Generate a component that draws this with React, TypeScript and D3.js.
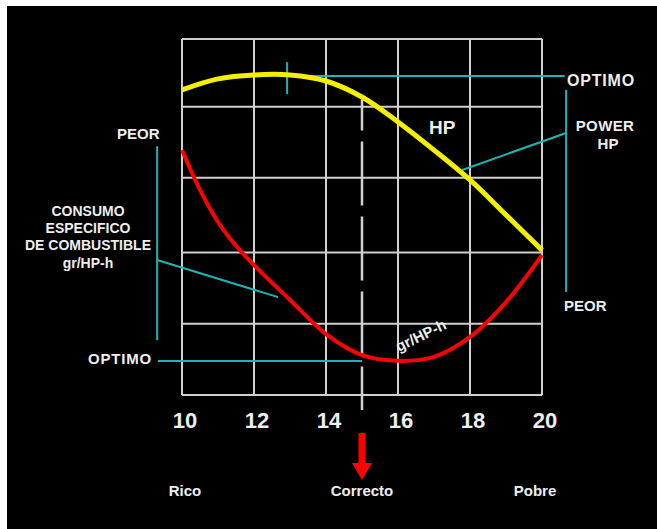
import React from 'react';
import * as d3 from 'd3';

// mixture ratio axis
const xTicks = [10, 12, 14, 16, 18, 20];
// horizontal grid rows (relative scale 0-100)
const gridRows = [0, 20, 40, 61, 81, 100];

// HP curve
const hpX = [10, 11, 12, 13, 14, 15, 16, 17, 18, 19, 20];
const hpY = [85.7, 88.8, 89.9, 89.9, 88.2, 83.7, 76.7, 68.8, 60.4, 50.6, 40.7];

// specific fuel consumption gr/HP-h
const sfcX = [10, 10.5, 11, 11.5, 12, 13, 14, 15, 16, 17, 18, 19, 20];
const sfcY = [68.8, 57.6, 48.6, 41.9, 36.5, 26.7, 17.1, 11.2, 9.6, 10.7, 16.3, 26.1, 39.3];

const bottomLabels = ['Rico', 'Correcto', 'Pobre'];
const leftBlock = ['CONSUMO', 'ESPECIFICO', 'DE COMBUSTIBLE', 'gr/HP-h'];

const W = 657;
const H = 529;
const CYAN = '#1fb3b3';
const GRID = '#cfcfcf';
const TXT = '#eeeeee';
const FONT = '"Liberation Sans", Arial, sans-serif';

const App: React.FC = () => {
    const x = d3.scaleLinear().domain([10, 20]).range([182, 542]);
    const y = d3.scaleLinear().domain([0, 100]).range([395, 39]);

    const line = d3.line<[number, number]>()
        .x(d => x(d[0]))
        .y(d => y(d[1]))
        .curve(d3.curveCatmullRom.alpha(0.5));

    const hpPath = line(hpX.map((v, i) => [v, hpY[i]] as [number, number])) ?? '';
    const sfcPath = line(sfcX.map((v, i) => [v, sfcY[i]] as [number, number])) ?? '';

    const seg = (x1: number, y1: number, x2: number, y2: number) => (
        <line x1={x(x1)} y1={y(y1)} x2={x(x2)} y2={y(y2)} stroke={CYAN} strokeWidth={2} />
    );

    const ax = x(15);

    return (
        <svg width={W} height={H} style={{ position: 'absolute', left: 0, top: 0 }} fontFamily={FONT} fontWeight="bold">
            <rect x={0} y={0} width={W} height={H} fill="#fff" />
            <rect x={7} y={6} width={W - 7} height={H - 6} fill="#000" />

            {/* grid */}
            {xTicks.map(t => (
                <line key={'vx' + t} x1={x(t)} x2={x(t)} y1={y(0)} y2={y(100)} stroke={GRID} strokeWidth={2} />
            ))}
            {gridRows.map(r => (
                <line key={'hy' + r} x1={x(10)} x2={x(20)} y1={y(r)} y2={y(r)} stroke={GRID} strokeWidth={2} />
            ))}

            {/* correct mixture dashed line */}
            <line x1={ax} x2={ax} y1={y(83)} y2={410} stroke={GRID} strokeWidth={2.5}
                strokeDasharray="64 11" strokeDashoffset={33} />

            {/* cyan annotations */}
            {seg(12.92, 89.6, 20.63, 89.6)}
            {seg(12.92, 93.5, 12.92, 84.5)}
            {seg(20.67, 85.7, 20.67, 28.9)}
            {seg(20.67, 73.6, 17.78, 63.2)}
            {seg(9.31, 69.9, 9.31, 15.4)}
            {seg(9.31, 37.9, 12.67, 27.5)}
            {seg(9.33, 9.55, 15, 9.55)}

            {/* curves */}
            <path d={hpPath} fill="none" stroke="#f2f000" strokeWidth={5} />
            <path d={sfcPath} fill="none" stroke="#ff0000" strokeWidth={4} />

            {/* tick labels */}
            {xTicks.map(t => (
                <text key={'tl' + t} x={x(t) + 3} y={428} fill={TXT} fontSize={22} textAnchor="middle">{t}</text>
            ))}

            {/* arrow */}
            <rect x={ax - 3.5} y={433} width={7} height={31} fill="#ff0000" />
            <polygon points={`${ax - 10},463 ${ax + 10},463 ${ax},480`} fill="#ff0000" />

            {/* bottom labels */}
            {bottomLabels.map((l, i) => (
                <text key={l} x={x(10 + i * 5) + (i === 2 ? -7 : i === 0 ? 3 : 0)} y={496} fill={TXT}
                    fontSize={15} textAnchor="middle">{l}</text>
            ))}

            {/* right labels */}
            <text x={567} y={86} fill={TXT} fontSize={16} letterSpacing={0.8}>OPTIMO</text>
            <text x={605} y={131} fill={TXT} fontSize={15} textAnchor="middle" letterSpacing={0.4}>POWER</text>
            <text x={608} y={149} fill={TXT} fontSize={15} textAnchor="middle">HP</text>
            <text x={564} y={311} fill={TXT} fontSize={15}>PEOR</text>
            <text x={429} y={134} fill={TXT} fontSize={19}>HP</text>

            {/* left labels */}
            <text x={117} y={139} fill={TXT} fontSize={15}>PEOR</text>
            <text x={88} y={364} fill={TXT} fontSize={15} letterSpacing={0.8}>OPTIMO</text>
            {leftBlock.map((l, i) => (
                <text key={l} x={88} y={216 + i * 17 + (i === 3 ? 1 : 0)} fill={TXT} fontSize={14}
                    textAnchor="middle">{l}</text>
            ))}

            {/* curve label */}
            <text transform={`translate(${x(16.7)},${y(15.4)}) rotate(-26)`} fill={TXT} fontSize={15}
                textAnchor="middle">gr/HP-h</text>
        </svg>
    );
};

export default App;
